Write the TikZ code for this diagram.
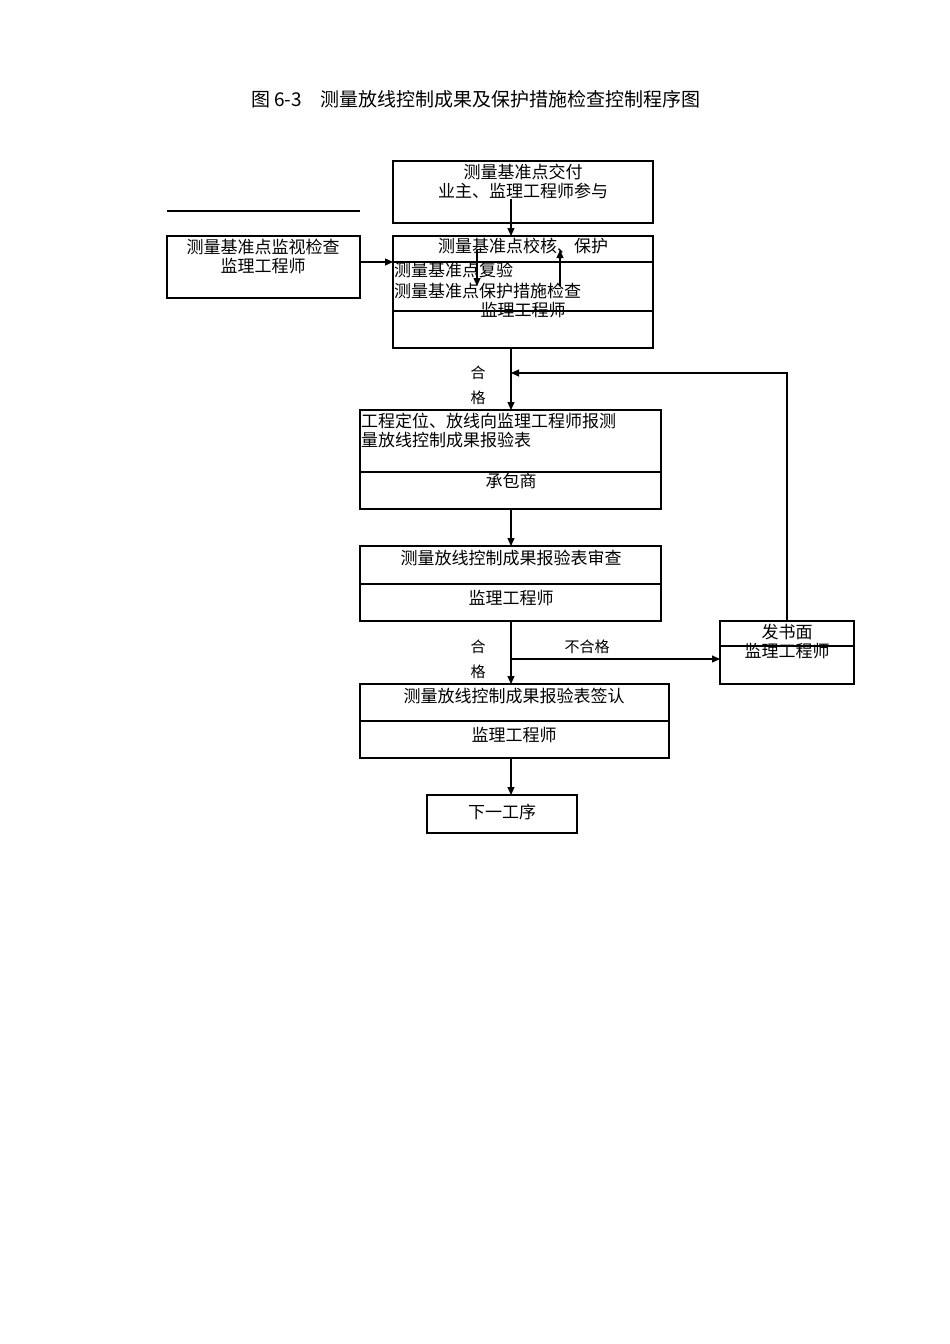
\documentclass[tikz,border=0pt]{standalone}
\usepackage{fontspec}
\setmainfont{Noto Sans CJK SC}
\usetikzlibrary{arrows.meta}
\begin{document}
\begin{tikzpicture}[x=1pt,y=-1pt,
  bx/.style={draw,line width=1.2pt},
  ln/.style={line width=1.1pt},
  ar/.style={line width=1.1pt,-{Triangle[length=8pt,width=7pt]}},
  t/.style={inner sep=0pt,font=\fontsize{17}{17}\selectfont},
  ts/.style={inner sep=0pt,font=\fontsize{15}{15}\selectfont}]
\useasboundingbox[fill=white] (0,0) rectangle (950,1344);
\node[inner sep=0pt,font=\fontsize{19}{19}\selectfont] (title) at (476,99) {图 6-3\quad 测量放线控制成果及保护措施检查控制程序图};
% top box
\draw[bx] (393,161) rectangle (653,223);
\node[t] (a1) at (523,172) {测量基准点交付};
\node[t] (a2) at (523,191) {业主、监理工程师参与};
\coordinate (a3) at (511,199);
% box2
\draw[bx] (393,236) rectangle (653,348);
\draw[ln] (393,262) -- (653,262); \draw[ln] (393,311) -- (653,311);
\node[t] (b1) at (523,246) {测量基准点校核、保护};
\node[t,anchor=west] (b2) at (394,270) {测量基准点复验};
\node[t,anchor=west] (b3) at (394,291) {测量基准点保护措施检查};
\node[t] (b4) at (523,310) {监理工程师};
\coordinate (b2top) at (511,236);
\coordinate (p1) at (477,250); \coordinate (p2) at (477,286);
\coordinate (q1) at (560,286); \coordinate (q2) at (560,250);
\draw[ar] (p1) -- (p2); \draw[ar] (q1) -- (q2);
\draw[ar] (a3) -- (b2top);
% left box
\draw[ln] (167,211) -- (360,211);
\draw[bx] (167,236) rectangle (360,298);
\node[t] (l1) at (263,247) {测量基准点监视检查};
\node[t] (l2) at (263,266) {监理工程师};
\coordinate (lr) at (360,262); \coordinate (bl) at (393,262);
\draw[ar] (lr) -- (bl);
% box3
\coordinate (b2b) at (511,348); \coordinate (c0) at (511,410);
\draw[ar] (b2b) -- (c0);
\node[ts] (h1) at (478,373) {合}; \node[ts] (h2) at (478,398) {格};
\draw[bx] (360,410) rectangle (661,509); \draw[ln] (360,472) -- (661,472);
\node[t,anchor=west] (c1) at (361,421) {工程定位、放线向监理工程师报测};
\node[t,anchor=west] (c2) at (361,440) {量放线控制成果报验表};
\node[t] (c3) at (511,481) {承包商};
\coordinate (c4) at (511,509); \coordinate (d0) at (511,546);
\draw[ar] (c4) -- (d0);
% box4
\draw[bx] (360,546) rectangle (661,621); \draw[ln] (360,584) -- (661,584);
\node[t] (d1) at (511,558) {测量放线控制成果报验表审查};
\node[t] (d2) at (511,598) {监理工程师};
\coordinate (d3) at (511,621); \coordinate (e0) at (511,684);
\draw[ar] (d3) -- (e0);
\node[ts] (h3) at (478,647) {合}; \node[ts] (h4) at (478,672) {格};
\coordinate (br) at (511,659); \coordinate (f0) at (720,659);
\draw[ar] (br) -- (f0);
\node[ts] (ng) at (587,647) {不合格};
% right box
\draw[bx] (720,621) rectangle (854,684); \draw[ln] (720,646) -- (854,646);
\node[t] (f1) at (787,632) {发书面};
\node[t] (f2) at (787,651) {监理工程师};
\coordinate (f3) at (787,621); \coordinate (f4) at (787,373); \coordinate (f5) at (511,373);
\draw[ar] (f3) -- (f4) -- (f5);
% box6
\draw[bx] (360,684) rectangle (669,758); \draw[ln] (360,721) -- (669,721);
\node[t] (e1) at (514,696) {测量放线控制成果报验表签认};
\node[t] (e2) at (514,735) {监理工程师};
\coordinate (e3) at (511,758); \coordinate (g0) at (511,795);
\draw[ar] (e3) -- (g0);
\draw[bx] (427,795) rectangle (577,833);
\node[t] (g1) at (502,812) {下一工序};
\end{tikzpicture}
\end{document}
